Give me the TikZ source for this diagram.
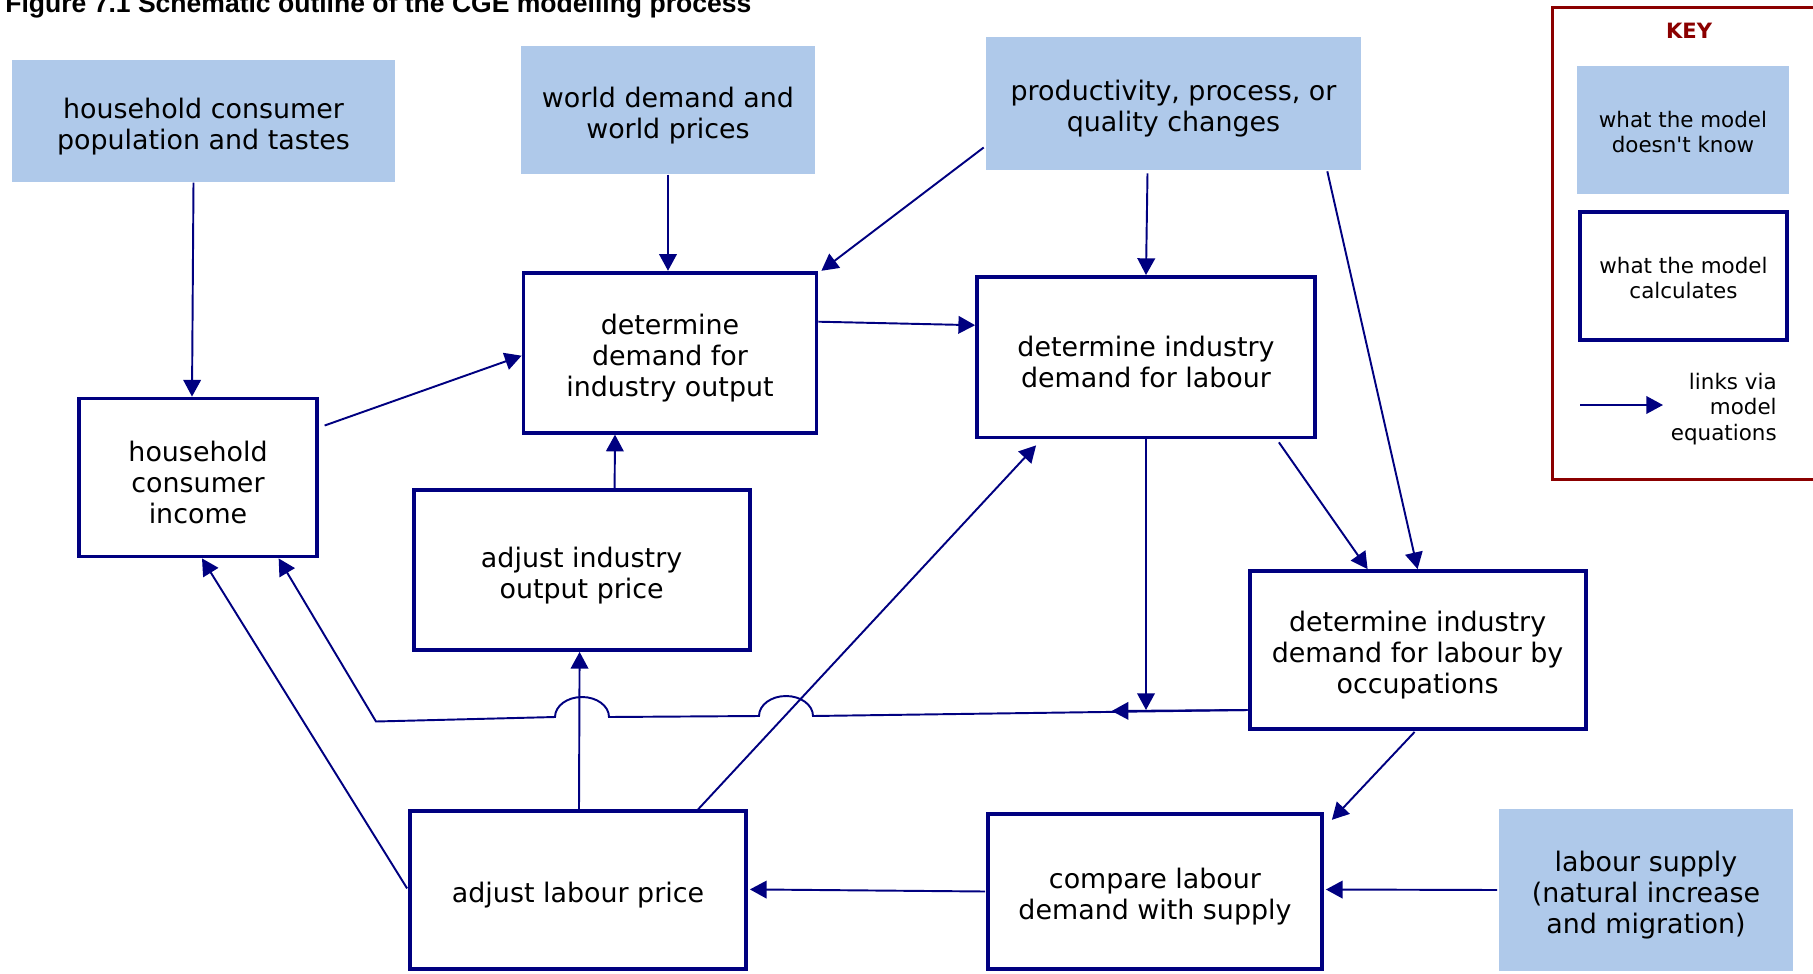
\documentclass[tikz,border=0pt]{standalone}
\usepackage{fontspec}
\setmainfont{DejaVu Sans}[Ligatures=TeXOff]
\newfontfamily\titlefont{Liberation Sans}
\usepackage{tikz}
\usetikzlibrary{arrows.meta,calc}

\definecolor{unknownblue}{RGB}{175,201,234}
\definecolor{linknavy}{RGB}{0,0,128}
\definecolor{keyred}{RGB}{139,0,0}

% taller first line, so the text sits a little low in its box
\newcommand{\lift}{\rule{0pt}{17.5pt}}
\newcommand{\liftkey}{\rule{0pt}{11.9pt}}

\begin{document}
\begin{tikzpicture}[x=0.02cm, y=-0.02cm,
    outside/.style={rectangle, fill=unknownblue, align=center, inner sep=0pt},
    model/.style={rectangle, draw=linknavy, line width=2.2pt, fill=white, align=center, inner sep=0pt},
    bigtext/.style={font=\fontsize{15.3}{17.7}\selectfont},
    keytext/.style={font=\fontsize{12.2}{14.4}\selectfont},
    link/.style={draw=linknavy, line width=1.1pt, -{Triangle[length=9.5pt,width=10pt]}}]

  \useasboundingbox (0,0) rectangle (1813,974);

  % title, cut at the top
  \node[anchor=base west, inner sep=0pt, font=\titlefont\bfseries\fontsize{15.1}{18}\selectfont] (title) at (5,12) {Figure 7.1 Schematic outline of the CGE modelling process};

  % what the model doesn't know
  \node[outside, bigtext, minimum width=7.68cm, minimum height=2.45cm] (pop) at (203.5,121) {\lift household consumer\\population and tastes};
  \node[outside, bigtext, minimum width=5.87cm, minimum height=2.57cm] (world) at (668,110) {\lift world demand and\\world prices};
  \node[outside, bigtext, minimum width=7.5cm, minimum height=2.66cm] (prod) at (1173.5,103.5) {\lift productivity, process, or\\quality changes};
  \node[outside, bigtext, minimum width=5.9cm, minimum height=3.24cm] (supply) at (1646,890) {\lift labour supply\\(natural increase\\and migration)};

  % what the model calculates
  \node[model, bigtext, minimum width=4.75cm, minimum height=3.16cm] (income) at (198,477.5) {\lift household\\consumer\\income};
  \node[model, bigtext, minimum width=5.86cm, minimum height=3.2cm] (output) at (670,352.7) {\lift determine\\demand for\\industry output};
  \node[model, bigtext, minimum width=6.76cm, minimum height=3.21cm] (labour) at (1146,357.2) {\lift determine industry\\demand for labour};
  \node[model, bigtext, minimum width=6.72cm, minimum height=3.2cm] (oprice) at (581.6,570) {\lift adjust industry\\output price};
  \node[model, bigtext, minimum width=6.72cm, minimum height=3.16cm] (occup) at (1417.6,650) {\lift determine industry\\demand for labour by\\occupations};
  \node[model, bigtext, minimum width=6.72cm, minimum height=3.16cm] (lprice) at (578,890.4) {\lift adjust labour price};
  \node[model, bigtext, minimum width=6.68cm, minimum height=3.11cm] (compare) at (1155,891.5) {\lift compare labour\\demand with supply};

  % links
  \draw[link] ($(pop.south)+(-10,0)$) -- ($(income.north)+(-6,0)$);
  \draw[link] ($(income.east)+(6,-52)$) -- ($(output.west)+(0,3)$);
  \draw[link] (world.south) -- ($(output.north)+(-2,0)$);
  \draw[link] ($(prod.west)+(-2,44)$) -- ($(output.north east)+(3,0)$);
  \draw[link] ($(output.east)+(0,-31)$) -- ($(labour.west)+(0,-32)$);
  \draw[link] ($(prod.south)+(-26,3)$) -- (labour.north);
  \draw[link] ($(prod.south east)+(-34,1)$) -- (occup.north);
  \draw[link] ($(labour.south east)+(-38,3)$) -- ($(occup.north)+(-50,0)$);

  % return line with hops
  \coordinate (ret) at ($(occup.west)+(0,60)$);
  \coordinate (retmid) at ($(ret)+(-136,1)$);
  \draw[link] (labour.south) -- (labour.south |- ret);
  \draw[link] (ret) -- (813,716)
    arc[start angle=0, end angle=180, x radius=0.54cm, y radius=0.4cm] -- (609,717)
    arc[start angle=0, end angle=180, x radius=0.54cm, y radius=0.4cm] -- (376,721.5)
    -- ($(income.south east)+(-40,0)$);
  \draw[link] (ret) -- (retmid);

  \draw[link] ($(lprice.west)+(-1,-2)$) -- ($(income.south)+(4,0)$);
  \draw[link] ($(lprice.north)+(1,0)$) -- ($(oprice.south)+(-2,0)$);
  \draw[link] ($(oprice.north)+(33,0)$) -- ($(output.south)+(-55,0)$);
  \draw[link] ($(lprice.north)+(120,0)$) -- ($(labour.south west)+(61,6)$);
  \draw[link] ($(occup.south)+(-3,1)$) -- ($(compare.north east)+(8,8)$);
  \draw[link] ($(supply.west)+(-1,0)$) -- ($(compare.east)+(2,-2)$);
  \draw[link] ($(compare.west)+(-1,0)$) -- ($(lprice.east)+(2,-1)$);

  % key
  \node[draw=keyred, line width=1.7pt, minimum width=5.8cm, minimum height=9.46cm] (key) at (1697,243.5) {};
  \node[text=keyred, font=\bfseries\fontsize{12}{14}\selectfont] (keytitle) at (1689,31) {KEY};
  \node[outside, keytext, minimum width=4.24cm, minimum height=2.56cm] (kout) at (1683,130) {\liftkey what the model\\doesn't know};
  \node[model, keytext, minimum width=4.14cm, minimum height=2.56cm] (kin) at (1683.5,276) {\liftkey what the model\\calculates};
  \coordinate (ka) at (1580,405);
  \coordinate (kb) at (1663,405);
  \draw[link] (ka) -- (kb);
  \node[keytext, align=right, anchor=east, inner sep=0pt] (klink) at (1777,409) {links via\\model\\equations};
\end{tikzpicture}
\end{document}
